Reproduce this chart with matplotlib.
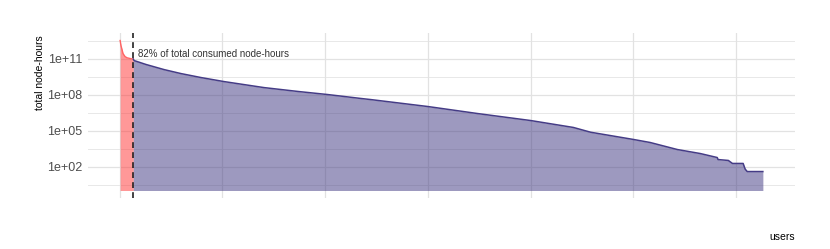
"""
用户节点小时分布图（对数坐标）
"""

import numpy as np
import matplotlib
matplotlib.use("Agg")
import matplotlib.pyplot as plt

plt.rcParams['font.family'] = ['Liberation Sans', 'DejaVu Sans']

# 数据：按用户排序后的总节点小时
top_users = [1, 3, 6, 8, 13, 18, 23, 28, 33]
top_hours = [3.2e12, 1.2e12, 5.0e11, 2.6e11, 1.45e11, 1.15e11, 1.05e11, 9.6e10, 9.1e10]

rest_users = [33, 35, 64, 108, 149, 198, 254, 351, 434, 506, 587, 611, 750, 871,
              1000, 1104, 1146, 1250, 1291, 1357, 1413, 1454, 1456, 1481,
              1491, 1517, 1522, 1527, 1565]
rest_hours = [9.1e10, 6.8e10, 3.2e10, 1.2e10, 5.6e9, 2.6e9, 1.2e9, 3.8e8, 1.8e8,
              1.0e8, 4.7e7, 3.8e7, 1.0e7, 2.6e6, 6.8e5, 1.8e5, 7.2e4,
              1.8e4, 1.0e4, 2.6e3, 1.2e3, 5.6e2, 3.8e2, 3.2e2, 1.8e2, 1.8e2,
              6.0e1, 3.8e1, 3.8e1]

cutoff_user = 33
label_text = "82% of total consumed node-hours"
y_ticks = [1e2, 1e5, 1e8, 1e11]
y_tick_labels = ["1e+02", "1e+05", "1e+08", "1e+11"]
y_minor = [10**0.5, 10**3.5, 10**6.5, 10**9.5, 10**12.5]
x_grid = [0, 250, 500, 750, 1000, 1250, 1500]

fig = plt.figure(figsize=(8.3, 2.49), dpi=100)
ax = fig.add_axes([88 / 830, 1 - 198 / 249, (795 - 88) / 830, (198 - 33) / 249])

# 网格线
for y in y_ticks:
    ax.axhline(y, color='#e2e2e2', lw=0.9, zorder=0)
for y in y_minor:
    ax.axhline(y, color='#e8e8e8', lw=0.7, zorder=0)
for x in x_grid:
    ax.axvline(x, color='#e2e2e2', lw=0.9, zorder=0)

# 面积图
ax.fill_between(top_users, top_hours, 1, color='#ff3333', alpha=0.5, lw=0, zorder=2)
ax.plot(top_users, top_hours, color='#ff6464', lw=1.0, zorder=3)
ax.fill_between(rest_users, rest_hours, 1, color='#3d3580', alpha=0.5, lw=0, zorder=2)
ax.plot(rest_users, rest_hours, color='#453c86', lw=1.1, zorder=3)

ax.axvline(cutoff_user, color='#222222', lw=1.2, linestyle=(0, (3.5, 2.5)), zorder=4)
ax.text(45, 10**11.42, label_text, fontsize=7, color='#333333',
        ha='left', va='center', zorder=5)

ax.set_yscale('log')
n = rest_users[-1] - top_users[0]
ax.set_xlim(top_users[0] - 0.05 * n, rest_users[-1] + 0.05 * n)
lo, hi = 0.0, np.log10(top_hours[0])
pad = 0.05 * (hi - lo)
ax.set_ylim(10**(lo - pad), 10**(hi + pad))

ax.set_yticks(y_ticks)
ax.set_yticklabels(y_tick_labels)
ax.yaxis.set_minor_locator(matplotlib.ticker.NullLocator())
ax.set_xticks([])
ax.tick_params(axis='y', length=0, pad=4, labelsize=9, labelcolor='#4d4d4d')
for s in ax.spines.values():
    s.set_visible(False)

fig.text(40 / 830, 1 - 35 / 249, "total node-hours", rotation=90,
         ha='center', va='top', fontsize=7.5, color='black')
fig.text(795 / 830, 1 - 237 / 249, "users", ha='right', va='center',
         fontsize=7.5, color='black')

fig.savefig("out.png", dpi=100)
